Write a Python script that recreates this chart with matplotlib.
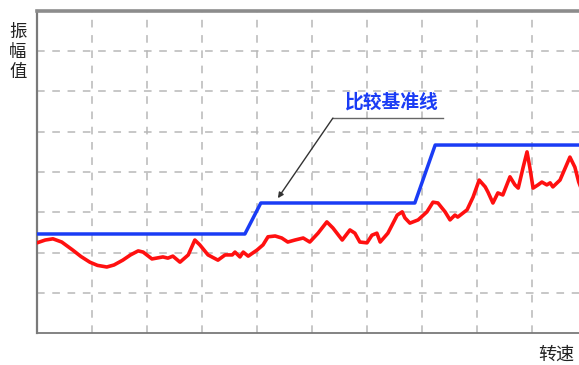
import matplotlib
matplotlib.use("Agg")
import matplotlib.pyplot as plt

plt.rcParams['font.family'] = ['Noto Sans CJK SC', 'DejaVu Sans']

# 转速 (横轴, 每格10) / 振幅 (纵轴, 每格10)
speed = [0, 1.5, 2.9, 4.5, 6.5, 8.0, 9.6, 11.0, 12.7, 14.0, 15.6, 17.0, 18.4, 19.3,
         20.9, 22.9, 23.8, 24.7, 26.0, 27.5,
         28.7, 29.6, 31.1, 32.9, 34.2, 35.5, 36.0, 36.9, 37.5, 38.4, 40.0, 41.1, 42.0,
         43.3, 44.5, 45.6, 46.9, 48.4, 49.6, 51.1, 52.7, 53.8, 55.5, 56.9, 57.8, 58.7,
         60.0, 60.9, 61.8, 62.4, 63.8, 65.5, 66.4, 66.9, 67.8, 69.3, 70.9, 72.0, 72.9,
         74.2, 75.1, 76.0, 76.5, 78.2, 79.3, 80.4, 81.5, 82.0, 82.9, 83.8, 84.7, 86.0,
         86.9, 87.5, 88.4, 89.1, 89.6, 90.2, 91.1, 91.8, 92.7, 93.3, 93.8, 95.1, 96.9,
         97.8, 98.5, 99.5]
amplitude = [22.4, 23.1, 23.4, 22.6, 20.6, 19.0, 17.6, 16.8, 16.4, 16.9, 18.1, 19.4,
             20.4, 20.1, 18.4, 18.9, 18.6, 19.1,
             17.6, 19.4, 23.1, 21.9, 19.4, 18.1, 19.4, 19.4, 20.1, 18.9, 20.1, 19.1,
             20.6, 21.9, 23.9, 24.1, 23.6, 22.6, 23.1, 23.6, 22.6, 24.8, 27.6, 26.1,
             23.1, 25.6, 24.8, 22.6, 22.4, 24.3, 24.8, 22.6, 24.8, 29.3, 30.1, 28.6,
             27.3, 28.1, 30.1, 32.5, 32.3, 30.1, 28.1, 29.3, 28.8, 30.6, 33.8, 38.0,
             36.3, 35.0, 32.3, 34.8, 34.3, 38.8, 36.8, 36.0, 41.2, 45.0, 41.2, 36.0,
             36.8, 37.5, 36.8, 37.3, 36.3, 38.0, 43.7, 41.2, 37.5, 34.0]

# 比较基准线
ref_speed = [0, 37.8, 40.7, 68.7, 72.4, 99.5]
ref_level = [24.6, 24.6, 32.3, 32.3, 46.7, 46.7]

fig = plt.figure(figsize=(5.79, 3.65), dpi=100)
ax = fig.add_axes([37 / 579, 32 / 365, 542 / 579, 322 / 365])
ax.set_xlim(0, 98.55)
ax.set_ylim(0, 80)

ax.set_xticks(range(10, 99, 10))
ax.set_yticks(range(10, 80, 10))
ax.tick_params(length=0, labelbottom=False, labelleft=False)
ax.grid(True, color='#b8b8b8', linewidth=1.1, linestyle=(0, (5, 5)))

ax.spines['right'].set_visible(False)
ax.spines['top'].set_color('#8c8c8c')
ax.spines['top'].set_linewidth(2.6)
ax.spines['left'].set_color('#7a7a7a')
ax.spines['left'].set_linewidth(1.6)
ax.spines['bottom'].set_color('#7a7a7a')
ax.spines['bottom'].set_linewidth(1.3)

ax.plot(ref_speed, ref_level, color='#1a3cf5', linewidth=2.5, zorder=3)
ax.plot(speed, amplitude, color='#ff1010', linewidth=2.6, zorder=3,
        solid_joinstyle='round')

# 引出线
ax.plot([53.8, 73.8], [53.4, 53.4], color='#666666', linewidth=1.0, zorder=4)
ax.annotate('', xy=(43.8, 33.5), xytext=(53.8, 53.4),
            arrowprops=dict(arrowstyle='-|>', color='#333333', lw=1.0,
                            mutation_scale=8, shrinkA=0, shrinkB=0), zorder=4)
ax.text(64.5, 57.4, '比较基准线', color='#1a3cf5', fontsize=13.5, fontweight='bold',
        ha='center', va='center')

fig.text(18 / 579, 1 - 52 / 365, '振\n幅\n值', fontsize=12.5, linespacing=1.15,
         ha='center', va='center', color='#222222', fontweight='medium')
fig.text(556 / 579, 1 - 355 / 365, '转速', fontsize=13, ha='center', va='center',
         color='#222222', fontweight='medium')

fig.savefig('out.png', dpi=100)
